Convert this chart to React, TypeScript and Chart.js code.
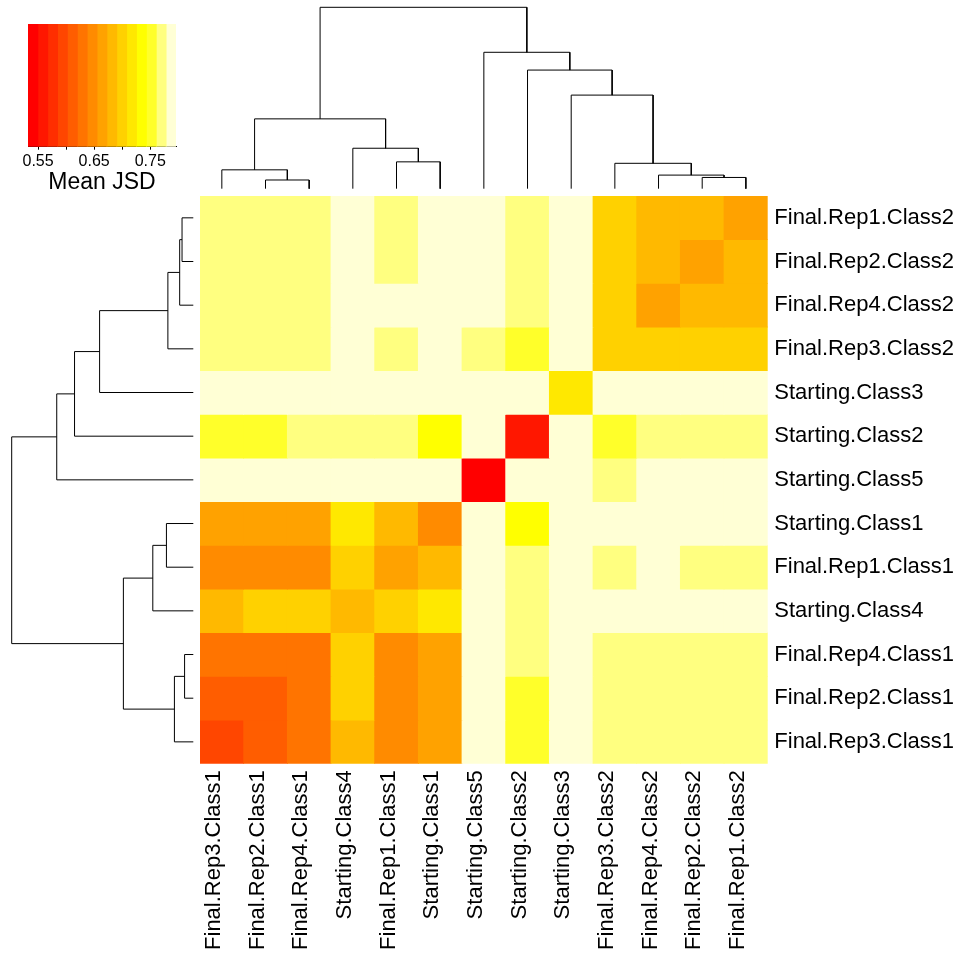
import React, { useEffect, useRef } from "react";
import { Chart, registerables } from "chart.js";

Chart.register(...registerables);
Chart.defaults.font.family = "'Liberation Sans', Arial, Helvetica, sans-serif";
Chart.defaults.color = "#000";

// ---------- data ----------
const colLabels = [
  "Final.Rep3.Class1", "Final.Rep2.Class1", "Final.Rep4.Class1", "Starting.Class4",
  "Final.Rep1.Class1", "Starting.Class1", "Starting.Class5", "Starting.Class2",
  "Starting.Class3", "Final.Rep3.Class2", "Final.Rep4.Class2", "Final.Rep2.Class2",
  "Final.Rep1.Class2",
];
const rowLabels = [
  "Final.Rep1.Class2", "Final.Rep2.Class2", "Final.Rep4.Class2", "Final.Rep3.Class2",
  "Starting.Class3", "Starting.Class2", "Starting.Class5", "Starting.Class1",
  "Final.Rep1.Class1", "Starting.Class4", "Final.Rep4.Class1", "Final.Rep2.Class1",
  "Final.Rep3.Class1",
];

// mean JSD, rows top→bottom (rowLabels), columns left→right (colLabels)
const rowF1C2 = [0.770, 0.770, 0.770, 0.788, 0.770, 0.788, 0.788, 0.770, 0.788, 0.699, 0.682, 0.682, 0.664];
const rowF2C2 = [0.770, 0.770, 0.770, 0.788, 0.770, 0.788, 0.788, 0.770, 0.788, 0.699, 0.682, 0.664, 0.682];
const rowF4C2 = [0.770, 0.770, 0.770, 0.788, 0.788, 0.788, 0.788, 0.770, 0.788, 0.699, 0.664, 0.682, 0.682];
const rowF3C2 = [0.770, 0.770, 0.770, 0.788, 0.770, 0.788, 0.770, 0.752, 0.788, 0.699, 0.699, 0.699, 0.699];
const rowS3 = [0.788, 0.788, 0.788, 0.788, 0.788, 0.788, 0.796, 0.788, 0.717, 0.788, 0.788, 0.788, 0.788];
const rowS2 = [0.752, 0.752, 0.770, 0.770, 0.770, 0.735, 0.788, 0.559, 0.788, 0.752, 0.770, 0.770, 0.770];
const rowS5 = [0.788, 0.788, 0.788, 0.788, 0.788, 0.788, 0.532, 0.788, 0.796, 0.770, 0.788, 0.788, 0.788];
const rowS1 = [0.664, 0.664, 0.664, 0.717, 0.682, 0.647, 0.788, 0.735, 0.788, 0.788, 0.788, 0.788, 0.788];
const rowF1C1 = [0.647, 0.647, 0.647, 0.699, 0.664, 0.682, 0.788, 0.770, 0.788, 0.770, 0.788, 0.770, 0.770];
const rowS4 = [0.682, 0.699, 0.699, 0.682, 0.699, 0.717, 0.788, 0.770, 0.788, 0.788, 0.788, 0.788, 0.788];
const rowF4C1 = [0.629, 0.629, 0.629, 0.699, 0.647, 0.664, 0.788, 0.770, 0.788, 0.770, 0.770, 0.770, 0.770];
const rowF2C1 = [0.611, 0.611, 0.629, 0.699, 0.647, 0.664, 0.788, 0.752, 0.788, 0.770, 0.770, 0.770, 0.770];
const rowF3C1 = [0.594, 0.611, 0.629, 0.682, 0.647, 0.664, 0.788, 0.752, 0.788, 0.770, 0.770, 0.770, 0.770];
const jsdRows = [rowF1C2, rowF2C2, rowF4C2, rowF3C2, rowS3, rowS2, rowS5, rowS1, rowF1C1, rowS4, rowF4C1, rowF2C1, rowF3C1];

// heat.colors(15)
const heatColors = [
  "#FF0000", "#FF1700", "#FF2E00", "#FF4600", "#FF5D00", "#FF7400", "#FF8B00", "#FFA200",
  "#FFB900", "#FFD100", "#FFE800", "#FFFF00", "#FFFF2A", "#FFFF80", "#FFFFD5",
];

// key ticks
const keyTicks = [0.55, 0.6, 0.65, 0.7, 0.75];
const keyTickLabels = ["0.55", "", "0.65", "", "0.75"];

// dendrogram (hclust-style merges; negative = leaf index 1-based in column order)
const mergeLeft = [-2, -12, -11, -1, -10, -5, -4, 4, -9, -8, -7, 8];
const mergeRight = [-3, -13, 2, 1, 3, -6, 6, 7, 5, 9, 10, 11];
const mergeHeight = [0.048, 0.062, 0.075, 0.104, 0.140, 0.148, 0.223, 0.385, 0.516, 0.654, 0.752, 1.0];

// ---------- helpers ----------
const allVals = jsdRows.flat();
const vMin = Math.min(...allVals);
const vMax = Math.max(...allVals);
const nBins = heatColors.length;
const breaks = heatColors.map((_, k) => vMin + ((vMax - vMin) * k) / nBins).concat([vMax]);

function colorFor(v: number): string {
  let k = Math.floor(((v - vMin) / (vMax - vMin)) * nBins);
  if (k >= nBins) k = nBins - 1;
  if (k < 0) k = 0;
  return heatColors[k];
}

type Seg = { pa: number; ha: number; pb: number; hb: number; h: number };
function dendroSegments(): Seg[] {
  const nodePos: number[] = [];
  const nodeH: number[] = [];
  const segs: Seg[] = [];
  const get = (id: number): [number, number] =>
    id < 0 ? [-id - 1 + 0.5, 0] : [nodePos[id - 1], nodeH[id - 1]];
  for (let i = 0; i < mergeHeight.length; i++) {
    const [pa, ha] = get(mergeLeft[i]);
    const [pb, hb] = get(mergeRight[i]);
    const h = mergeHeight[i];
    nodePos.push((pa + pb) / 2);
    nodeH.push(h);
    segs.push({ pa, ha, pb, hb, h });
  }
  return segs;
}

// ---------- chart component ----------
function ChartCanvas({ left, top, width, height, make }: { left: number; top: number; width: number; height: number; make: () => any }) {
  const ref = useRef<HTMLCanvasElement | null>(null);
  useEffect(() => {
    if (!ref.current) return;
    const chart = new Chart(ref.current, make());
    return () => chart.destroy();
  }, []);
  return (
    <canvas
      ref={ref}
      width={width}
      height={height}
      style={{ position: "absolute", left, top, width, height }}
    />
  );
}

const noPlugins = { legend: { display: false }, tooltip: { enabled: false } };

function heatmapConfig() {
  return {
    type: "bar",
    data: {
      labels: colLabels,
      datasets: rowLabels.map((name, r) => ({
        label: name,
        data: colLabels.map(() => [r, r + 1]),
        backgroundColor: jsdRows[r].map(colorFor),
        borderWidth: 0,
        grouped: false,
        barPercentage: 1,
        categoryPercentage: 1,
        inflateAmount: 0.4,
      })),
    },
    options: {
      responsive: false,
      animation: false,
      events: [],
      devicePixelRatio: 1,
      layout: { padding: { left: 10, top: 6, right: 0, bottom: 0 } },
      plugins: noPlugins,
      scales: {
        x: {
          type: "category",
          offset: true,
          grid: { display: false, drawTicks: false },
          border: { display: false },
          ticks: {
            autoSkip: false,
            maxRotation: 90,
            minRotation: 90,
            padding: 6.5,
            labelOffset: -8,
            color: "#000",
            font: { size: 22 },
          },
          afterFit: (s: any) => {
            s.height = 193.3;
            s.paddingLeft = 0;
            s.paddingRight = 0;
          },
        },
        y: {
          type: "linear",
          position: "right",
          min: 0,
          max: 13,
          reverse: true,
          grid: { display: false, drawTicks: false },
          border: { display: false },
          afterBuildTicks: (s: any) => {
            s.ticks = rowLabels.map((_, i) => ({ value: i + 0.5 }));
          },
          ticks: {
            autoSkip: false,
            padding: 6.6,
            color: "#000",
            font: { size: 22 },
            callback: (_v: any, i: number) => rowLabels[i],
          },
          afterFit: (s: any) => {
            s.width = 195.3;
            s.paddingTop = 0;
            s.paddingBottom = 0;
          },
        },
      },
    },
  };
}

function topDendroConfig() {
  const segs = dendroSegments();
  return {
    type: "scatter",
    data: {
      datasets: segs.map((s) => ({
        data: [
          { x: s.pa, y: s.ha },
          { x: s.pa, y: s.h },
          { x: s.pb, y: s.h },
          { x: s.pb, y: s.hb },
        ],
        showLine: true,
        borderColor: "#000",
        borderWidth: 1,
        pointRadius: 0,
        fill: false,
        clip: false,
      })),
    },
    options: {
      responsive: false,
      animation: false,
      events: [],
      devicePixelRatio: 1,
      layout: { padding: { left: 10, right: 12.3, top: 7.3, bottom: 7.3 } },
      plugins: noPlugins,
      scales: {
        x: { type: "linear", min: 0, max: 13, display: false },
        y: { type: "linear", min: 0, max: 1, display: false },
      },
    },
  };
}

function leftDendroConfig() {
  const segs = dendroSegments();
  return {
    type: "scatter",
    data: {
      datasets: segs.map((s) => ({
        data: [
          { x: s.ha, y: s.pa },
          { x: s.h, y: s.pa },
          { x: s.h, y: s.pb },
          { x: s.hb, y: s.pb },
        ],
        showLine: true,
        borderColor: "#000",
        borderWidth: 1,
        pointRadius: 0,
        fill: false,
        clip: false,
      })),
    },
    options: {
      responsive: false,
      animation: false,
      events: [],
      devicePixelRatio: 1,
      layout: { padding: { left: 11.7, right: 6.7, top: 6, bottom: 6.3 } },
      plugins: noPlugins,
      scales: {
        x: { type: "linear", min: 0, max: 1, reverse: true, display: false },
        y: { type: "linear", min: 0, max: 13, display: false },
      },
    },
  };
}

function keyConfig() {
  return {
    type: "bar",
    data: {
      labels: [""],
      datasets: heatColors.map((c, k) => ({
        data: [[breaks[k], breaks[k + 1]]],
        backgroundColor: c,
        borderWidth: 0,
        grouped: false,
        barPercentage: 1,
        categoryPercentage: 1,
        inflateAmount: 0.4,
      })),
    },
    options: {
      indexAxis: "y",
      responsive: false,
      animation: false,
      events: [],
      devicePixelRatio: 1,
      layout: { padding: { left: 28, right: 24, top: 24, bottom: 0 } },
      plugins: noPlugins,
      scales: {
        y: { type: "category", display: false, offset: true },
        x: {
          type: "linear",
          position: "bottom",
          min: vMin,
          max: vMax,
          grid: { display: true, drawOnChartArea: false, drawTicks: true, tickLength: 3, color: "#000", lineWidth: 1 },
          border: { display: true, color: "#000", width: 1 },
          afterBuildTicks: (s: any) => {
            s.ticks = keyTicks.map((v) => ({ value: v }));
          },
          ticks: {
            autoSkip: false,
            maxRotation: 0,
            minRotation: 0,
            padding: 2,
            color: "#000",
            font: { size: 16 },
            callback: (_v: any, i: number) => keyTickLabels[i],
          },
          title: {
            display: true,
            text: "Mean JSD",
            color: "#000",
            font: { size: 23 },
            padding: { top: 0, bottom: 0 },
          },
          afterFit: (s: any) => {
            s.height = 49.3;
            s.paddingLeft = 0;
            s.paddingRight = 0;
          },
        },
      },
    },
  };
}

export default function App() {
  return (
    <div style={{ position: "absolute", left: 0, top: 0, width: 963, height: 957, background: "#fff", overflow: "hidden" }}>
      <ChartCanvas left={0} top={0} width={200} height={196} make={keyConfig} />
      <ChartCanvas left={190} top={0} width={590} height={196} make={topDendroConfig} />
      <ChartCanvas left={0} top={190} width={200} height={580} make={leftDendroConfig} />
      <ChartCanvas left={190} top={190} width={773} height={767} make={heatmapConfig} />
    </div>
  );
}
